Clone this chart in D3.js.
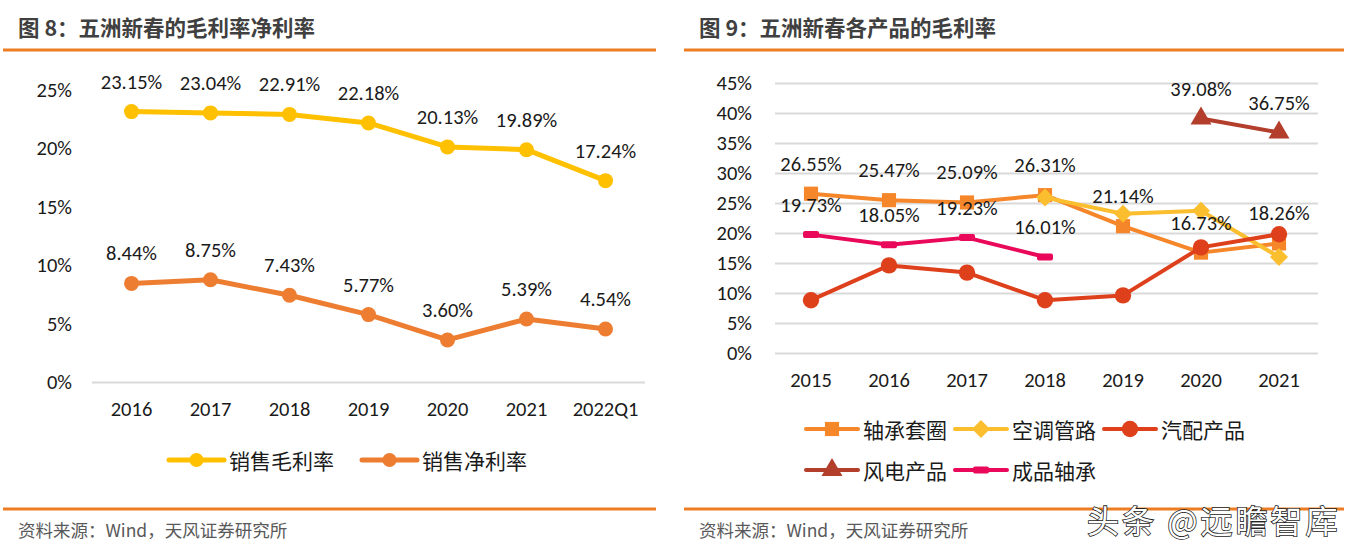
<!DOCTYPE html>
<html>
<head>
<meta charset="utf-8">
<script src="https://cdn.jsdelivr.net/npm/d3@7"></script>
<style>
html,body{margin:0;padding:0;background:#fff;}
svg{display:block;}
</style>
</head>
<body>
<svg id="chart" width="1356" height="554"></svg>
<script>
// ---------- data ----------
const leftCategories = ["2016","2017","2018","2019","2020","2021","2022Q1"];
const grossMargin = [23.15, 23.04, 22.91, 22.18, 20.13, 19.89, 17.24];
const netMargin = [8.44, 8.75, 7.43, 5.77, 3.60, 5.39, 4.54];
const leftTicks = [0, 5, 10, 15, 20, 25];

const rightCategories = ["2015","2016","2017","2018","2019","2020","2021"];
const bearingRings = [26.55, 25.47, 25.09, 26.31, 21.14, 16.73, 18.26];   // 轴承套圈
const acPipes = [null, null, null, 25.9, 23.2, 23.7, 16.0];              // 空调管路
const autoParts = [8.8, 14.6, 13.4, 8.8, 9.6, 17.6, 19.8];                // 汽配产品
const windPower = [null, null, null, null, null, 39.08, 36.75];          // 风电产品
const finishedBearings = [19.73, 18.05, 19.23, 16.01, null, null, null]; // 成品轴承
const rightTicks = [0, 5, 10, 15, 20, 25, 30, 35, 40, 45];

const NUM_FONT = "Carlito, Lato, 'Liberation Sans', sans-serif";
const NUM_SIZE = 20.5;
const CJK_FONT = "'Noto Sans CJK SC', 'Noto Sans', sans-serif";

const svg = d3.select("#chart");

// ---------- headers / footers ----------
function frame(x0, x1, title) {
  svg.append("text").attr("x", x0 + 15).attr("y", 36)
    .attr("font-family", CJK_FONT).attr("font-weight", "bold")
    .attr("font-size", 21.5).attr("fill", "#404040").text(title);
  svg.append("line").attr("x1", x0).attr("x2", x1).attr("y1", 50).attr("y2", 50)
    .attr("stroke", "#ED7D22").attr("stroke-width", 3);
  svg.append("line").attr("x1", x0).attr("x2", x1).attr("y1", 509).attr("y2", 509)
    .attr("stroke", "#ED7D22").attr("stroke-width", 3);
  svg.append("text").attr("x", x0 + 15).attr("y", 537)
    .attr("font-family", CJK_FONT).attr("font-size", 17.5).attr("fill", "#595959")
    .text("资料来源：Wind，天风证券研究所");
}
frame(3, 656, "图 8：五洲新春的毛利率净利率");
frame(684, 1344, "图 9：五洲新春各产品的毛利率");

// ---------- left chart ----------
const xL = d3.scaleBand().domain(leftCategories).range([92, 645]);
const yL = d3.scaleLinear().domain([0, 25]).range([382, 90]);

const gL = svg.append("g");
gL.append("g").attr("transform", "translate(92,0)")
  .call(d3.axisLeft(yL).tickValues([0]).tickSize(-553).tickFormat(""))
  .call(g => g.select(".domain").remove())
  .call(g => g.selectAll("line").attr("stroke", "#D9D9D9").attr("stroke-width", 2));
gL.append("g").attr("transform", "translate(80,0)")
  .call(d3.axisLeft(yL).tickValues(leftTicks).tickSize(0).tickPadding(8).tickFormat(d => d + "%"))
  .call(g => g.select(".domain").remove())
  .call(g => g.selectAll("text").attr("font-family", NUM_FONT).attr("font-size", NUM_SIZE).attr("fill", "#1a1a1a"));
gL.append("g").attr("transform", "translate(0,382)")
  .call(d3.axisBottom(xL).tickSize(0).tickPadding(19))
  .call(g => g.select(".domain").remove())
  .call(g => g.selectAll("text").attr("font-family", NUM_FONT).attr("font-size", NUM_SIZE).attr("fill", "#1a1a1a"));

function drawLineSeries(g, x, y, cats, vals, color, width) {
  const pts = cats.map((c, i) => ({c, v: vals[i]}));
  const line = d3.line().defined(d => d.v != null)
    .x(d => x(d.c) + x.bandwidth() / 2).y(d => y(d.v));
  g.append("path").datum(pts).attr("d", line).attr("fill", "none")
    .attr("stroke", color).attr("stroke-width", width).attr("stroke-linejoin", "round").attr("stroke-linecap", "round");
  return pts.filter(d => d.v != null);
}
function drawLabels(g, x, y, pts) {
  g.selectAll(null).data(pts).enter().append("text")
    .attr("x", d => x(d.c) + x.bandwidth() / 2).attr("y", d => y(d.v) - 30)
    .attr("text-anchor", "middle").attr("dominant-baseline", "central")
    .attr("font-family", NUM_FONT).attr("font-size", NUM_SIZE).attr("fill", "#1a1a1a")
    .text(d => d.v.toFixed(2) + "%");
}

const leftSeries = [
  {name: "销售毛利率", vals: grossMargin, color: "#FFC000"},
  {name: "销售净利率", vals: netMargin, color: "#ED7D31"}
];
const leftLabelSets = [];
leftSeries.forEach(s => {
  const pts = drawLineSeries(gL, xL, yL, leftCategories, s.vals, s.color, 5);
  gL.selectAll(null).data(pts).enter().append("circle")
    .attr("cx", d => xL(d.c) + xL.bandwidth() / 2).attr("cy", d => yL(d.v))
    .attr("r", 7.5).attr("fill", s.color);
  leftLabelSets.push(pts);
});
leftLabelSets.forEach(p => drawLabels(gL, xL, yL, p));

const legL = [{x: 169, s: leftSeries[0]}, {x: 362, s: leftSeries[1]}];
legL.forEach(l => {
  const g = svg.append("g").attr("transform", `translate(${l.x},460)`);
  g.append("line").attr("x1", 0).attr("x2", 55).attr("stroke", l.s.color).attr("stroke-width", 5).attr("stroke-linecap", "round");
  g.append("circle").attr("cx", 27.5).attr("r", 7).attr("fill", l.s.color);
  g.append("text").attr("x", 60).attr("dominant-baseline", "central")
    .attr("font-family", CJK_FONT).attr("font-size", 21).attr("fill", "#1a1a1a").text(l.s.name);
});

// ---------- right chart ----------
const xR = d3.scaleBand().domain(rightCategories).range([772, 1318]);
const yR = d3.scaleLinear().domain([0, 45]).range([353, 83]);
const gR = svg.append("g");
gR.append("g").attr("transform", "translate(775,0)")
  .call(d3.axisLeft(yR).tickValues(rightTicks).tickSize(-543).tickFormat(""))
  .call(g => g.select(".domain").remove())
  .call(g => g.selectAll("line").attr("stroke", "#D9D9D9").attr("stroke-width", 2));
gR.append("g").attr("transform", "translate(760,0)")
  .call(d3.axisLeft(yR).tickValues(rightTicks).tickSize(0).tickPadding(8).tickFormat(d => d + "%"))
  .call(g => g.select(".domain").remove())
  .call(g => g.selectAll("text").attr("font-family", NUM_FONT).attr("font-size", NUM_SIZE).attr("fill", "#1a1a1a"));
gR.append("g").attr("transform", "translate(0,353)")
  .call(d3.axisBottom(xR).tickSize(0).tickPadding(19))
  .call(g => g.select(".domain").remove())
  .call(g => g.selectAll("text").attr("font-family", NUM_FONT).attr("font-size", NUM_SIZE).attr("fill", "#1a1a1a"));

const sym = {
  square: d3.symbol().type(d3.symbolSquare).size(200),
  circle: d3.symbol().type(d3.symbolCircle).size(210),
  triangle: d3.symbol().type(d3.symbolTriangle).size(190)
};
const rightSeries = [
  {name: "轴承套圈", vals: bearingRings, color: "#F5862A", marker: "square", labels: true},
  {name: "空调管路", vals: acPipes, color: "#FBBE2E", marker: "diamond", labels: false},
  {name: "汽配产品", vals: autoParts, color: "#DE401C", marker: "circle", labels: false},
  {name: "风电产品", vals: windPower, color: "#B33E2B", marker: "triangle", labels: true},
  {name: "成品轴承", vals: finishedBearings, color: "#E9085A", marker: "dash", labels: true}
];
function drawMarker(g, type, color, cx, cy) {
  if (type === "dash") {
    g.append("rect").attr("x", cx - 8).attr("y", cy - 3.5).attr("width", 16).attr("height", 7)
      .attr("rx", 2).attr("fill", color);
  } else if (type === "diamond") {
    const r = 9;
    g.append("path").attr("d", `M0,${-r}L${r},0L0,${r}L${-r},0Z`)
      .attr("transform", `translate(${cx},${cy})`).attr("fill", color);
  } else {
    g.append("path").attr("d", sym[type]()).attr("transform", `translate(${cx},${cy})`).attr("fill", color);
  }
}
const rightLabelSets = [];
rightSeries.forEach(s => {
  const pts = drawLineSeries(gR, xR, yR, rightCategories, s.vals, s.color, 4);
  pts.forEach(d => drawMarker(gR, s.marker, s.color, xR(d.c) + xR.bandwidth() / 2, yR(d.v)));
  if (s.labels) rightLabelSets.push(pts);
});
rightLabelSets.forEach(p => drawLabels(gR, xR, yR, p));

const legPos = [[806, 429], [955, 429], [1104, 429], [806, 470], [955, 470]];
rightSeries.forEach((s, i) => {
  const g = svg.append("g").attr("transform", `translate(${legPos[i][0]},${legPos[i][1]})`);
  g.append("line").attr("x1", 0).attr("x2", 52).attr("stroke", s.color).attr("stroke-width", 4).attr("stroke-linecap", "round");
  drawMarker(g, s.marker, s.color, 26, 0);
  g.append("text").attr("x", 57).attr("dominant-baseline", "central")
    .attr("font-family", CJK_FONT).attr("font-size", 21).attr("fill", "#1a1a1a").text(s.name);
});

// watermark
svg.append("text").attr("x", 1087).attr("y", 533)
  .attr("font-family", CJK_FONT).attr("font-size", 32).attr("fill", "#fff")
  .attr("stroke", "#222").attr("stroke-width", 1.6).attr("paint-order", "stroke")
  .attr("letter-spacing", 3)
  .text("头条 @远瞻智库");
</script>
</body>
</html>
